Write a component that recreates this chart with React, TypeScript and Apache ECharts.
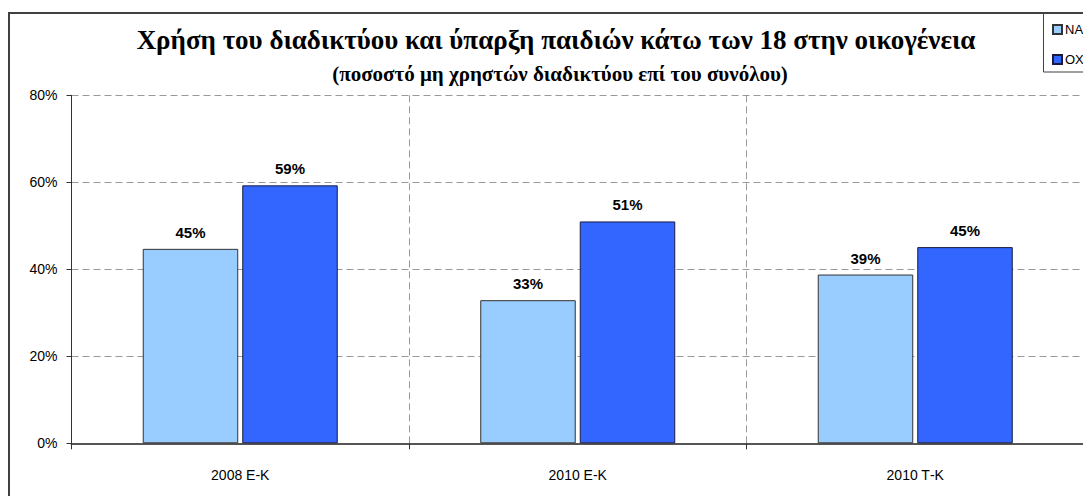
import React, { useEffect, useRef } from 'react';
import * as echarts from 'echarts';

const categories = ['2008 Ε-Κ', '2010 Ε-Κ', '2010 Τ-Κ'];
const seriesNames = ['ΝΑΙ', 'ΟΧΙ'];
const naiValues = [44.7, 32.9, 38.8];
const oxiValues = [59.3, 51.0, 45.1];
const yTicks = [0, 20, 40, 60, 80];
const titleText = 'Χρήση του διαδικτύου και ύπαρξη παιδιών κάτω των 18 στην οικογένεια';
const subtitleText = '(ποσοστό μη χρηστών διαδικτύου επί του συνόλου)';

const sans = '"Liberation Sans", Arial, sans-serif';
const serif = '"Liberation Serif", "Times New Roman", serif';

export default function App() {
  const ref = useRef<HTMLDivElement>(null);
  useEffect(() => {
    const chart = echarts.init(ref.current!, null, { renderer: 'svg' });
    const gridDash = { color: '#999999', width: 1, type: [7, 4] as number[] };
    const labelStyle = {
      show: true,
      position: 'top',
      distance: 9,
      color: '#000',
      fontFamily: sans,
      fontWeight: 'bold',
      fontSize: 15,
      formatter: (p: any) => Math.round(p.value) + '%',
    };
    chart.setOption({
      animation: false,
      backgroundColor: '#ffffff',
      legend: {
        data: seriesNames,
        orient: 'vertical',
        left: 1052,
        top: 23,
        padding: 0,
        itemWidth: 9,
        itemHeight: 9,
        itemGap: 17,
        icon: 'rect',
        textStyle: { fontFamily: sans, fontSize: 13, color: '#000', padding: [0, 0, 0, -2] },
      },
      grid: { left: 71.5, top: 95.3, right: 46, bottom: 52.7, containLabel: false },
      xAxis: {
        type: 'category',
        data: categories,
        axisLine: { show: true, lineStyle: { color: '#555555', width: 2 } },
        axisTick: { show: true, length: 6, lineStyle: { color: '#333333', width: 1 } },
        axisLabel: { color: '#000', fontFamily: sans, fontSize: 14, margin: 25 },
        splitLine: { show: true, lineStyle: gridDash },
      },
      yAxis: {
        type: 'value',
        min: yTicks[0],
        max: yTicks[yTicks.length - 1],
        interval: yTicks[1] - yTicks[0],
        axisLine: { show: true, lineStyle: { color: '#333333', width: 1 } },
        axisTick: { show: true, length: 5, lineStyle: { color: '#333333', width: 1 } },
        axisLabel: { color: '#000', fontFamily: sans, fontSize: 14, margin: 14, formatter: '{value}%' },
        splitLine: { show: true, lineStyle: gridDash },
      },
      series: [
        {
          name: seriesNames[0],
          type: 'bar',
          data: naiValues,
          barWidth: 95.5,
          barGap: '4.2%',
          itemStyle: { color: '#99CCFF', borderColor: '#333333', borderWidth: 1 },
          label: labelStyle,
        },
        {
          name: seriesNames[1],
          type: 'bar',
          data: oxiValues,
          barWidth: 95.5,
          barGap: '4.2%',
          itemStyle: { color: '#3366FF', borderColor: '#1a1a40', borderWidth: 1 },
          label: labelStyle,
        },
      ],
      graphic: [
        {
          type: 'rect',
          silent: true,
          shape: { x: 9, y: 13, width: 1300, height: 1000 },
          style: { fill: 'none', stroke: '#404040', lineWidth: 2 },
          z: 100,
        },
        {
          type: 'rect',
          silent: true,
          shape: { x: 1043.5, y: 13, width: 200, height: 59 },
          style: { fill: 'none', stroke: '#404040', lineWidth: 1 },
          z: 100,
        },
        {
          type: 'text',
          x: 556,
          y: 40,
          style: {
            text: titleText,
            fontFamily: serif,
            fontWeight: 'bold',
            fontSize: 27,
            fill: '#000',
            textAlign: 'center',
            textVerticalAlign: 'middle',
          },
        },
        {
          type: 'text',
          x: 560,
          y: 74,
          style: {
            text: subtitleText,
            fontFamily: serif,
            fontWeight: 'bold',
            fontSize: 21,
            fill: '#000',
            textAlign: 'center',
            textVerticalAlign: 'middle',
          },
        },
      ],
    });
    return () => chart.dispose();
  }, []);
  return (
    <div style={{ position: 'fixed', left: 0, top: 0, width: 1083, height: 496, overflow: 'hidden' }}>
      <div ref={ref} style={{ width: 1130, height: 496 }} />
    </div>
  );
}
